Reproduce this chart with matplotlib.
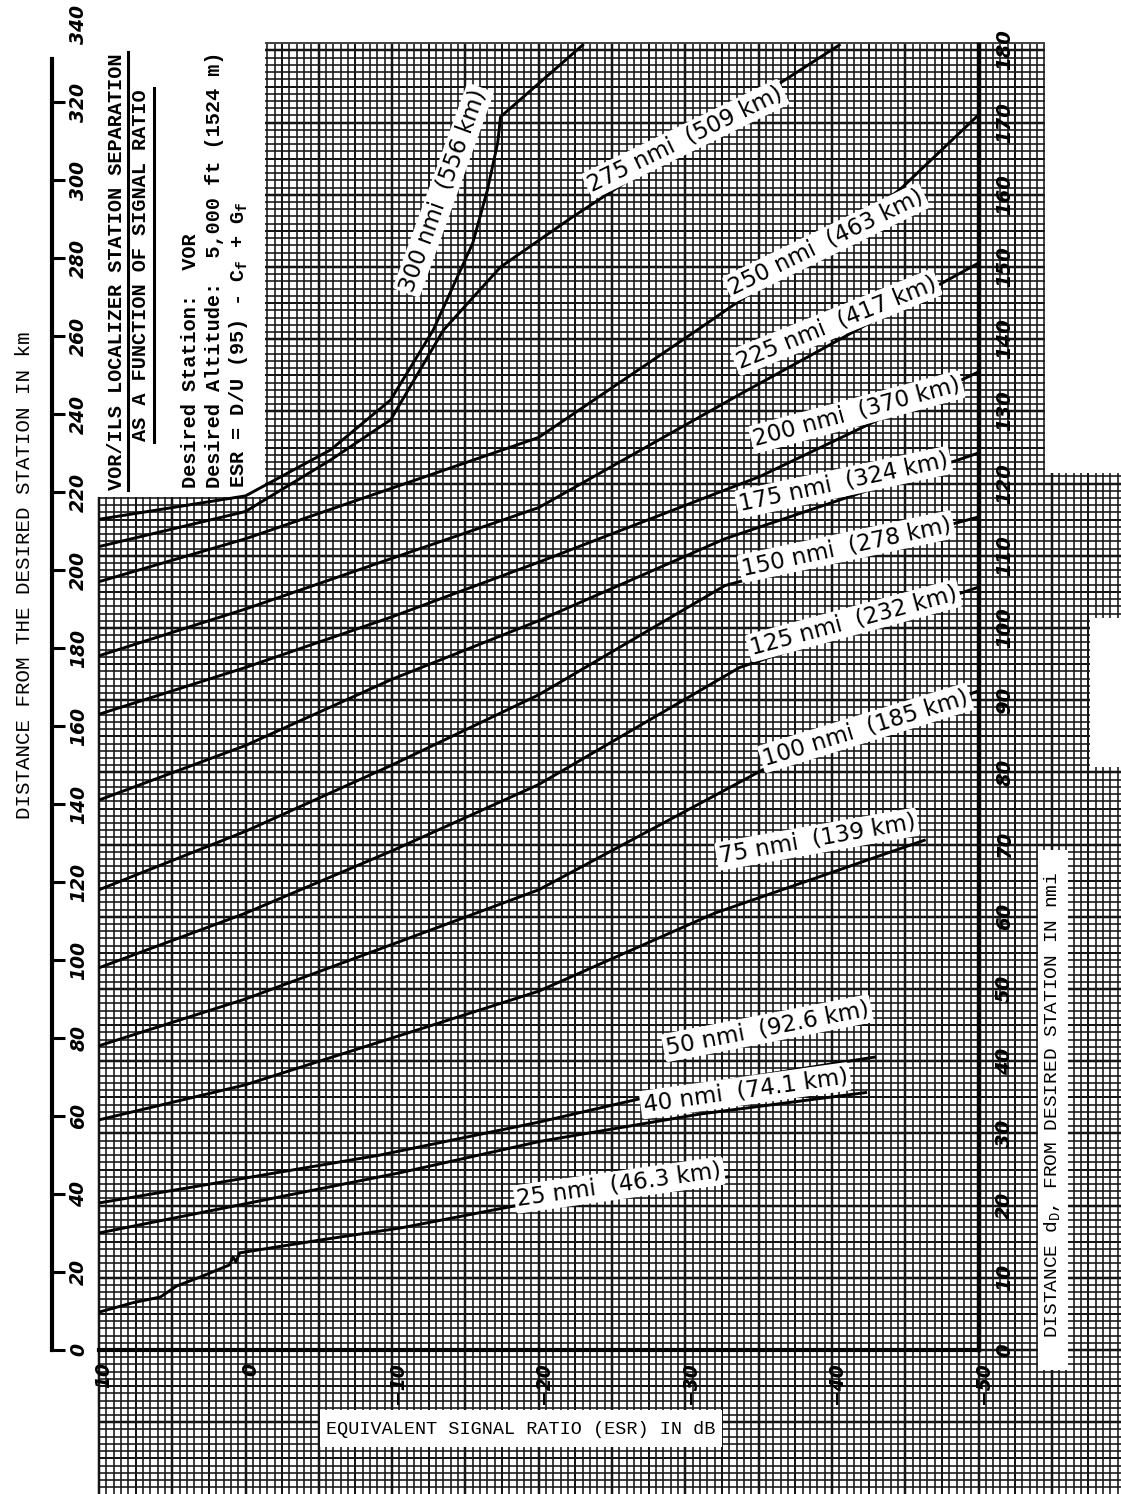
import numpy as np
import matplotlib.pyplot as plt
from matplotlib.patches import Rectangle
from matplotlib.transforms import ScaledTranslation

plt.rcParams['mathtext.fontset'] = 'custom'
plt.rcParams['mathtext.rm'] = 'Liberation Mono'
plt.rcParams['mathtext.bf'] = 'Liberation Mono:bold'

# ESR (dB) and distance from desired station (km)
esr_25 = [10, 7.7, 5.8, 4.7, 3.1, 1.1, 0.85, 0.65, 0.4, -5.1, -10.6, -18.7, -25.5, -32.9]
km_25 = [9.7, 12.1, 13.6, 16.4, 18.7, 21.8, 23.8, 22.6, 24.9, 28.2, 31.3, 37.2, 40.5, 44.4]
esr_40 = [10, 0, -10.6, -20.1, -31.0, -42.3]
km_40 = [30, 37.5, 45.5, 53.5, 60.5, 66]
esr_50 = [10, 0, -9.2, -20.1, -31.0, -42.9]
km_50 = [37.7, 44.1, 50, 58.5, 68, 75.1]
esr_75 = [10, 0, -10, -20, -32, -46.3]
km_75 = [59, 68, 80, 92, 112, 130.7]
esr_100 = [10, 0, -10, -20, -35.4, -50]
km_100 = [78, 90, 104, 118, 149, 169]
esr_125 = [10, 0, -10, -20, -33.7, -50]
km_125 = [98, 112, 128, 145, 175, 195.6]
esr_150 = [10, 0, -10, -20, -32.7, -50]
km_150 = [118, 133, 150, 168, 196, 213.6]
esr_175 = [10, 0, -10, -20, -32.7, -50]
km_175 = [141, 155, 172, 187, 208, 230]
esr_200 = [10, 0, -10, -20, -35.1, -50]
km_200 = [163, 175, 188, 202, 224, 250.8]
esr_225 = [10, 0, -10, -20, -33.7, -50]
km_225 = [178, 190, 203, 216, 245, 278.7]
esr_250 = [10, 0, -10, -20, -31, -44.6, -50]
km_250 = [197, 208, 221, 234, 262, 297.4, 316.7]
esr_275 = [10, 0, -5.8, -9.9, -13.5, -17.4, -22.3, -26.9, -40.5]
km_275 = [206, 215, 228.2, 238.5, 261.5, 277.7, 290.5, 301.8, 334.6]
esr_300 = [10, 0, -5.8, -9.9, -12.8, -15.5, -16.5, -17.2, -17.4, -23]
km_300 = [213, 219, 230.8, 243.6, 261.5, 283.8, 297.4, 309.5, 316.2, 334.6]

curves = [(esr_25, km_25), (esr_40, km_40), (esr_50, km_50), (esr_75, km_75),
          (esr_100, km_100), (esr_125, km_125), (esr_150, km_150), (esr_175, km_175),
          (esr_200, km_200), (esr_225, km_225), (esr_250, km_250), (esr_275, km_275),
          (esr_300, km_300)]
curve_labels = ['25 nmi  (46.3 km)', '40 nmi  (74.1 km)', '50 nmi  (92.6 km)',
                '75 nmi  (139 km)', '100 nmi  (185 km)', '125 nmi  (232 km)',
                '150 nmi  (278 km)', '175 nmi  (324 km)', '200 nmi  (370 km)',
                '225 nmi  (417 km)', '250 nmi  (463 km)', '275 nmi  (509 km)',
                '300 nmi  (556 km)']

esr_ticks = [10, 0, -10, -20, -30, -40, -50]
km_ticks = list(range(0, 341, 20))
nmi_ticks = list(range(0, 181, 10))

W, H = 1121, 1494
fig = plt.figure(figsize=(W / 100, H / 100), dpi=100)

# graph paper (pixel coordinates)
bg = fig.add_axes([0, 0, 1, 1])
bg.set_xlim(0, W)
bg.set_ylim(H, 0)
bg.axis('off')
x0, dx = 245.5, 7.33
y0, dy = 1350, 7.22
for k in range(-25, 125):
    x = x0 + k * dx
    if x < 98 or x > W:
        continue
    w = 2.5 if k % 10 == 0 else (2.0 if k % 5 == 0 else 1.6)
    bg.plot([x, x], [44, H], color='#151515', lw=w * 0.72, solid_capstyle='butt')
for k in range(-25, 185):
    y = y0 - k * dy
    if y < 43 or y > H:
        continue
    w = 2.5 if k % 10 == 0 else (2.0 if k % 5 == 0 else 1.6)
    bg.plot([99, W], [y, y], color='#151515', lw=w * 0.72, solid_capstyle='butt')

# white cut-outs on the paper
for r in [(0, 0, 265, 497), (1045, 0, 80, 473), (1090, 618, 35, 149),
          (1038, 850, 30, 520), (320, 1410, 402, 37)]:
    bg.add_patch(Rectangle(r[:2], r[2], r[3], fc='white', ec='none', zorder=3))

mono = 'Liberation Mono'
# title block
bg.text(117, 490, 'VOR/ILS LOCALIZER STATION SEPARATION', rotation=90, rotation_mode='anchor',
        ha='left', va='center', family=mono, weight='bold', fontsize=14.6, zorder=4)
bg.plot([128, 128], [490, 52], color='black', lw=2.2, zorder=4)
bg.text(141, 265, 'AS A FUNCTION OF SIGNAL RATIO', rotation=90, rotation_mode='anchor',
        ha='center', va='center', family=mono, weight='bold', fontsize=14.6, zorder=4)
bg.plot([154, 154], [442, 88], color='black', lw=2.2, zorder=4)
bg.text(191, 488, 'Desired Station:  VOR', rotation=90, rotation_mode='anchor',
        ha='left', va='center', family=mono, weight='bold', fontsize=14.6, zorder=4)
bg.text(214, 488, 'Desired Altitude:  5,000 ft (1524 m)', rotation=90, rotation_mode='anchor',
        ha='left', va='center', family=mono, weight='bold', fontsize=14.6, zorder=4)
bg.text(238, 488, r'ESR = D/U (95) - C$_\mathbf{f}$ + G$_\mathbf{f}$', rotation=90,
        rotation_mode='anchor', ha='left', va='center', family=mono, weight='bold',
        fontsize=14.6, zorder=4)

# axis titles
bg.text(25, 575, 'DISTANCE FROM THE DESIRED STATION IN km', rotation=90, ha='center',
        va='center', family=mono, fontsize=15, zorder=4)
bg.text(521, 1429, 'EQUIVALENT SIGNAL RATIO (ESR) IN dB', ha='center', va='center',
        family=mono, fontsize=13.3, zorder=4)
bg.text(1053, 1105, r'DISTANCE d$_\mathrm{D}$, FROM DESIRED STATION IN nmi', rotation=90,
        ha='center', va='center', family=mono, fontsize=14, zorder=4)

# data axes
left, right = 98.9 / W, 978.5 / W
bottom, top = (H - 1350) / H, (H - 24) / H
ax = fig.add_axes([left, bottom, right - left, top - bottom])
ax.patch.set_alpha(0)
ax.set_xlim(10, -50)
ax.set_ylim(0, 340)
for s in ['left', 'top', 'right']:
    ax.spines[s].set_visible(False)
ax.spines['bottom'].set_linewidth(3)
ax.set_xticks(esr_ticks)
ax.set_xticklabels([str(t).replace('-', '\u2212') for t in esr_ticks], rotation=90,
                   style='italic', weight='bold', fontsize=13.5)
ax.tick_params(axis='x', length=0, pad=9)
shift = ScaledTranslation(0.05, 0, fig.dpi_scale_trans)
for t in ax.get_xticklabels():
    t.set_transform(t.get_transform() + shift)
ax.set_yticks([])

for e, k in curves:
    ax.plot(e, k, color='black', lw=2.1, zorder=4, solid_joinstyle='round')

label_pos = [(-25.5, 42.3, 8), (-34.1, 66.5, 8), (-35.6, 82.5, 11), (-39.0, 131, 10),
             (-42.3, 159.5, 17), (-41.5, 187, 15), (-41.0, 206, 12), (-40.8, 222.5, 12),
             (-41.7, 240.5, 15), (-40.3, 263.5, 22), (-39.6, 284, 26), (-30.0, 310.5, 26),
             (-13.5, 297.4, 70)]
for lab, (x, y, a) in zip(curve_labels, label_pos):
    ax.text(x, y, lab, rotation=a, rotation_mode='anchor', ha='center', va='center',
            fontsize=16.5, family='DejaVu Sans', zorder=5,
            bbox=dict(boxstyle='round,pad=0.12', fc='white', ec='none'))

# nmi axis on the right
nax = ax.twinx()
nax.set_ylim(0, 340 / 1.852)
for s in ['left', 'top', 'bottom']:
    nax.spines[s].set_visible(False)
nax.spines['right'].set_linewidth(3.2)
nax.spines['right'].set_bounds(0, 334.6 / 1.852)
nax.set_yticks(nmi_ticks)
nax.set_yticklabels([str(t) for t in nmi_ticks], rotation=90, style='italic',
                    weight='bold', fontsize=14, va='center')
nax.tick_params(axis='y', length=0, pad=12)

# km axis on the left
kax = fig.add_axes([52 / W, bottom, 13 / W, top - bottom])
kax.patch.set_alpha(0)
kax.set_ylim(0, 340)
kax.set_xticks([])
for s in ['right', 'top', 'bottom']:
    kax.spines[s].set_visible(False)
kax.spines['left'].set_linewidth(3)
kax.spines['left'].set_bounds(0, 331)
kax.set_yticks(km_ticks)
kax.set_yticklabels([str(t) for t in km_ticks], rotation=90, style='italic',
                    weight='bold', fontsize=13.5, va='center')
kax.tick_params(axis='y', direction='in', length=9.5, width=2.2, left=True,
                labelleft=False, labelright=True, pad=3)
kax.yaxis.get_major_ticks()[-1].tick1line.set_visible(False)

fig.savefig('out.png', dpi=100)
